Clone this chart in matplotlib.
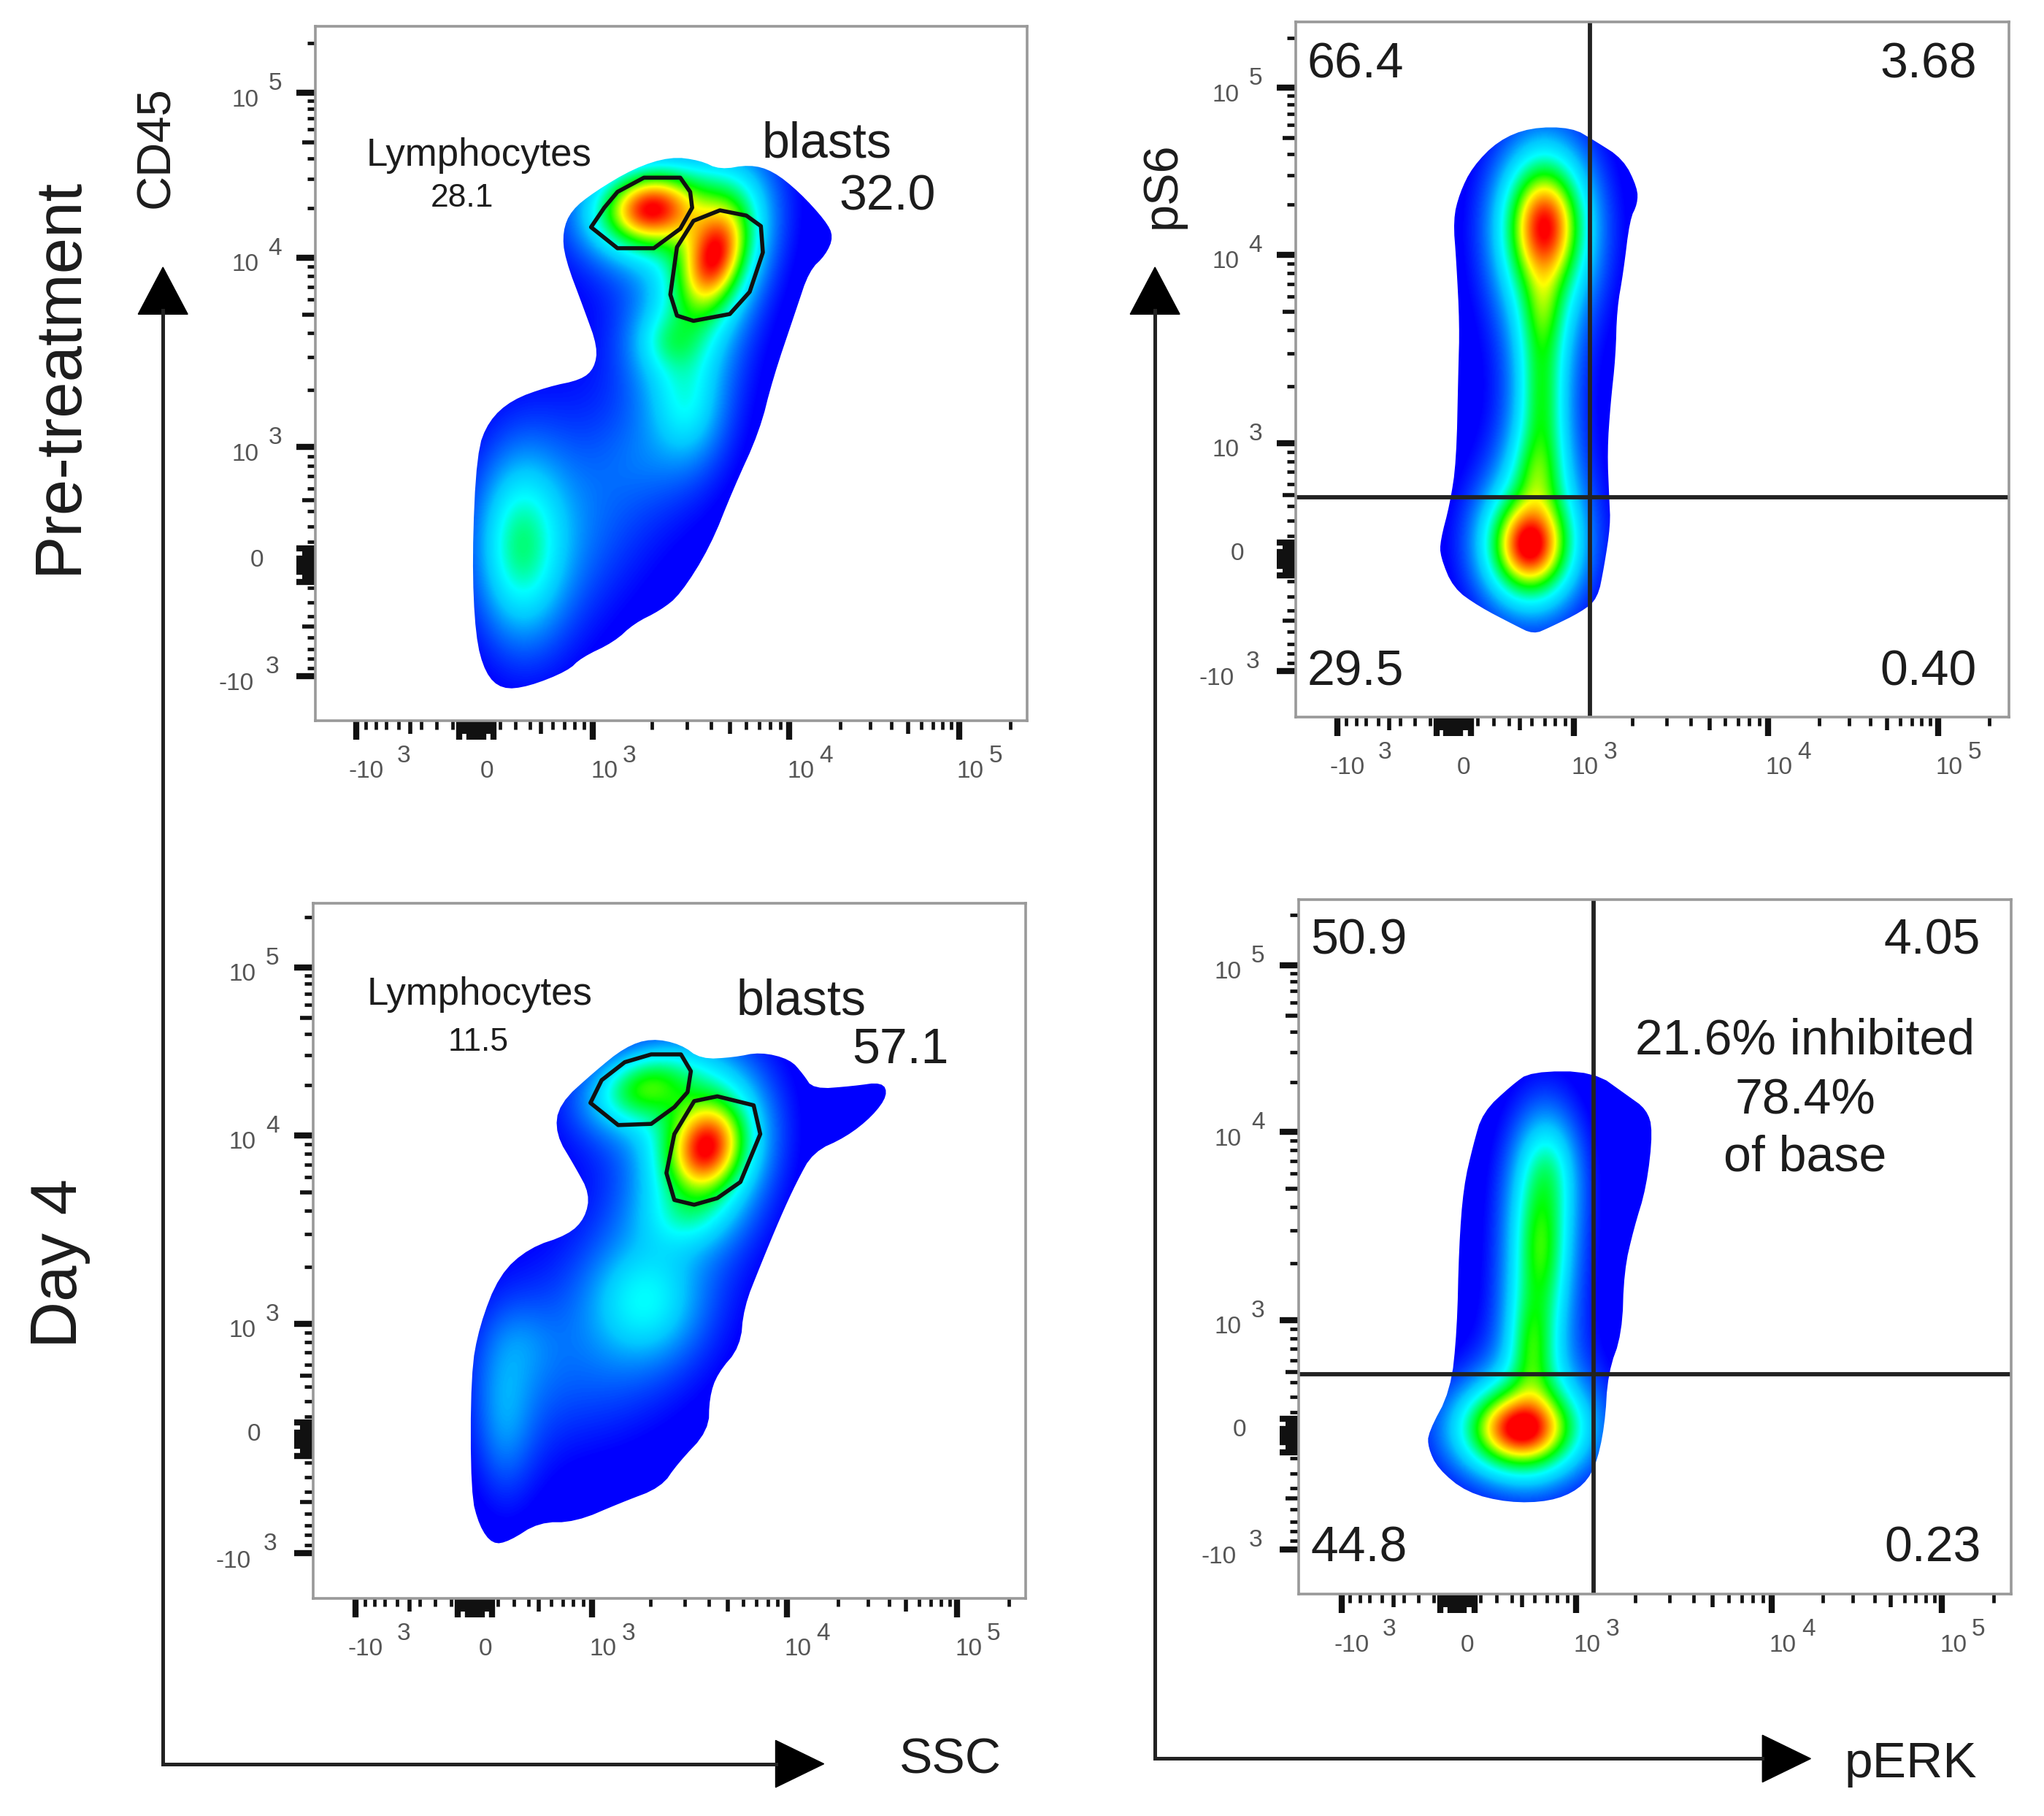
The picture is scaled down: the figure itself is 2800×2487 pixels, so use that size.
import matplotlib
matplotlib.use("Agg")
import matplotlib.pyplot as plt
import matplotlib.patches as mpatches
from matplotlib.collections import LineCollection
from matplotlib.colors import LinearSegmentedColormap
import numpy as np

plt.rcParams["font.family"] = ["Liberation Sans", "DejaVu Sans"]

A_FRAME = [242, 788, 20, 553]
A_XLIM = [478, 1555]
A_YLIM = [1370, 50]
A_XTICKS = [540, 722, 898, 1195, 1452]
A_YTICKS = [1285, 1075, 850, 490, 177]
A_OUTLINE = [(1015, 298), (1060, 305), (1090, 323), (1135, 313), (1170, 325), (1210, 365), (1250, 420),
             (1262, 450), (1250, 485), (1225, 515), (1205, 590), (1170, 720), (1150, 820), (1110, 930),
             (1075, 1040), (1030, 1130), (1000, 1160), (960, 1185), (930, 1220), (880, 1250), (860, 1275),
             (800, 1305), (760, 1310), (735, 1280), (720, 1210), (715, 1060), (722, 860), (740, 800),
             (775, 760), (830, 735), (880, 722), (900, 700), (905, 660), (885, 590), (855, 490),
             (852, 440), (865, 400), (900, 365), (960, 320)]
# x, y, sigma x, sigma y, angle, height
A_PEAKS = [(985, 398, 50, 46, -25, 0.95), (1082, 490, 33, 75, 12, 0.9), (1015, 650, 38, 44, 0, 0.18),
           (1040, 770, 42, 85, 0, 0.24), (790, 1040, 46, 115, 0, 0.38), (900, 1000, 85, 140, 0, 0.08),
           (960, 880, 55, 75, 0, 0.05)]
A_GATES = [[(895, 432), (915, 395), (935, 365), (975, 338), (1030, 338), (1045, 365), (1048, 395),
            (1030, 435), (990, 472), (935, 472)],
           [(1015, 560), (1025, 470), (1050, 420), (1090, 400), (1130, 410), (1152, 430), (1155, 480),
            (1135, 555), (1105, 597), (1050, 610), (1025, 600)]]

B_FRAME = [994, 1541, 17, 550]
B_XLIM = [405, 1515]
B_YLIM = [1365, 45]
B_XTICKS = [470, 650, 838, 1140, 1405]
B_YTICKS = [1278, 1065, 845, 487, 170]
B_OUTLINE = [(770, 245), (835, 245), (870, 270), (915, 305), (937, 360), (937, 390), (925, 420), (915, 520),
             (905, 590), (903, 680), (895, 770), (890, 860), (893, 950), (895, 1000), (885, 1080),
             (875, 1140), (850, 1165), (800, 1195), (775, 1208), (745, 1190), (690, 1155), (650, 1120),
             (630, 1060), (630, 1030), (645, 960), (655, 880), (658, 710), (660, 620), (655, 500),
             (650, 420), (660, 370), (680, 320), (720, 270)]
B_PEAKS = [(792, 430, 38, 78, 0, 0.92), (790, 590, 24, 70, 0, 0.22), (788, 760, 26, 125, 0, 0.38),
           (780, 900, 28, 60, 0, 0.22), (768, 1040, 38, 58, 0, 0.98)]
B_QUAD = [863, 948]

C_FRAME = [240, 787, 693, 1226]
C_XLIM = [473, 1552]
C_YLIM = [1205, 45]
C_XTICKS = [538, 718, 895, 1190, 1448]
C_YTICKS = [1130, 940, 747, 432, 152]
C_OUTLINE = [(985, 270), (1030, 280), (1060, 305), (1110, 302), (1150, 293), (1195, 305), (1215, 330),
             (1230, 355), (1290, 350), (1335, 343), (1343, 365), (1320, 400), (1280, 435), (1230, 460),
             (1205, 510), (1180, 570), (1150, 650), (1125, 720), (1120, 785), (1085, 830), (1073, 870),
             (1072, 925), (1025, 980), (1000, 1020), (940, 1045), (870, 1078), (815, 1078), (770, 1110),
             (745, 1115), (725, 1085), (712, 1030), (712, 830), (725, 750), (755, 665), (800, 620),
             (860, 598), (885, 570), (892, 530), (870, 485), (840, 430), (845, 380), (900, 325), (945, 285)]
C_PEAKS = [(975, 352, 56, 40, -20, 0.46), (1068, 452, 40, 56, 12, 0.97), (975, 710, 62, 72, 0, 0.27),
           (1035, 570, 48, 40, 0, 0.13), (762, 900, 36, 105, 0, 0.15), (880, 850, 105, 110, 0, 0.08),
           (790, 780, 45, 55, 0, 0.06)]
C_GATES = [[(893, 378), (910, 340), (945, 310), (985, 297), (1030, 297), (1045, 325), (1040, 360),
            (1020, 385), (985, 413), (935, 415)],
           [(1008, 495), (1020, 430), (1050, 375), (1085, 367), (1140, 382), (1150, 430), (1120, 510),
            (1085, 537), (1050, 548), (1020, 540)]]

D_FRAME = [996, 1543, 690, 1223]
D_XLIM = [408, 1518]
D_YLIM = [1200, 40]
D_XTICKS = [475, 655, 840, 1145, 1410]
D_YTICKS = [1125, 935, 742, 428, 150]
D_OUTLINE = [(770, 327), (868, 327), (920, 367), (950, 390), (960, 425), (950, 520), (930, 590), (915, 660),
             (912, 765), (890, 830), (885, 920), (870, 990), (845, 1025), (800, 1045), (735, 1047),
             (670, 1030), (625, 990), (610, 955), (610, 930), (645, 860), (655, 760), (658, 620),
             (665, 520), (680, 450), (695, 395), (740, 350)]
D_PEAKS = [(752, 925, 52, 42, 0, 0.98), (785, 620, 30, 90, 0, 0.42), (772, 790, 26, 75, 0, 0.36),
           (795, 490, 34, 70, 0, 0.24)]
D_QUAD = [868, 832]

TICK_VALUES = [-1000, 0, 1000, 10000, 100000]
TICK_EXPONENTS = ["3", None, "3", "4", "5"]
SMALL_TICKS = [10, 20, 30, 40, 50, 60, 70, 80, 90, 100]
LINEAR_TICKS = [200, 300, 400, 500, 600, 700, 800, 900]
LOG_FACTORS = [2, 3, 4, 5, 6, 7, 8, 9]
# where the linear part of the axis sits between 0 and 1000
LINEAR_VALUES = [0, 100, 200, 300, 400, 500, 600, 700, 800, 900, 1000]
LINEAR_SPOTS = [0, 0.145, 0.2, 0.333, 0.46, 0.55, 0.65, 0.755, 0.84, 0.925, 1]

density = LinearSegmentedColormap.from_list("flow", [
    (0.0, "#0000ff"), (0.07, "#0000ff"), (0.15, "#0060ff"), (0.24, "#00c8ff"), (0.33, "#00ffff"),
    (0.42, "#00ff80"), (0.52, "#00ff00"), (0.7, "#ffff00"), (0.85, "#ff8000"), (1.0, "#ff0000")])

fig = plt.figure(figsize=(28, 24.87), dpi=100)
PT = 2800 / 1568 * 0.72  # points per preview pixel


def _smooth(points, rounds=2):
    pts = np.array(points, dtype=float)
    for _ in range(rounds):
        nxt = np.roll(pts, -1, axis=0)
        pts = np.column_stack([0.75 * pts + 0.25 * nxt, 0.25 * pts + 0.75 * nxt]).reshape(-1, 2)
    return pts


def _to_channel(values, knots):
    # biexponential style axis: about linear up to 1000, log above
    v = np.array(values, dtype=float)
    a = np.abs(v)
    low = np.sign(v) * np.interp(a, LINEAR_VALUES, LINEAR_SPOTS)
    u = np.where(a <= 1000, low, np.sign(v) * (1 + np.log10(np.maximum(a, 1) / 1000)))
    return np.interp(u, [-1, 0, 1, 2, 3, 4], list(knots) + [knots[-1] + knots[-1] - knots[-2]])


def _ticks(ax, knots, horizontal):
    decades = [1000, 10000, 100000]
    short = [s * v for v in LINEAR_TICKS for s in (-1, 1) if v != 500]
    for d in decades:
        short += [f * d for f in LOG_FACTORS if f != 5 and f * d <= 200000]
    medium = [-500, 500, 5000, 50000] + [s * v for v in SMALL_TICKS[4:] for s in (-1, 1)]
    long_ = TICK_VALUES + [s * v for v in SMALL_TICKS[:4] for s in (-1, 1)] + [-100, 100]
    for values, length, width in [(short, 6.5, 3.4), (medium, 10, 4.0), (long_, 14.5, 6.0)]:
        pos = _to_channel(values, knots)
        if horizontal:
            segs = [[(p, 0), (p, -length / 533)] for p in pos]
            tr = ax.get_xaxis_transform()
        else:
            segs = [[(0, p), (-length / 546, p)] for p in pos]
            tr = ax.get_yaxis_transform()
        ax.add_collection(LineCollection(segs, colors="#111111", linewidths=width, transform=tr,
                                         clip_on=False, capstyle="butt"))


def _tick_labels(ax, knots, horizontal):
    style = dict(fontsize=24, color="#555555", ha="center", va="center", annotation_clip=False,
                 textcoords="offset points")
    for p, v, e in zip(knots, TICK_VALUES, TICK_EXPONENTS):
        base = "0" if e is None else ("-10" if v < 0 else "10")
        if horizontal:
            xy, tr = (p, 0), ax.get_xaxis_transform()
            off = (8, -39) if e is None else ((7.6, -39) if v < 0 else (8.6, -39))
            exp_off = (36.5, -27) if v < 0 else (28, -27)
        else:
            xy, tr = (0, p), ax.get_yaxis_transform()
            off = (-45, 4) if e is None else ((-61, -6) if v < 0 else (-54, -5.5))
            exp_off = (-33, 7) if v < 0 else (-31, 7)
        ax.annotate(base, xy, xycoords=tr, xytext=(off[0] * PT, off[1] * PT), **style)
        if e is not None:
            ax.annotate(e, xy, xycoords=tr, xytext=(exp_off[0] * PT, exp_off[1] * PT), **style)


def panel(frame, xlim, ylim, xticks, yticks, outline, peaks):
    left, right, top, bottom = frame
    ax = fig.add_axes([left / 1568, 1 - bottom / 1393, (right - left) / 1568, (bottom - top) / 1393])
    # density surface from the peaks, clipped to the population outline
    gx, gy = np.meshgrid(np.linspace(xlim[0], xlim[1], 900), np.linspace(ylim[1], ylim[0], 900))
    field = np.zeros_like(gx)
    for cx, cy, sx, sy, ang, h in peaks:
        t = np.radians(ang)
        dx, dy = gx - cx, gy - cy
        u = dx * np.cos(t) + dy * np.sin(t)
        w = -dx * np.sin(t) + dy * np.cos(t)
        # heavy tails, the blue skirt of the picture is wide
        field += h * (1 + 0.25 * ((u / sx) ** 2 + (w / sy) ** 2)) ** -2
    im = ax.imshow(np.clip(field, 0, 1), extent=[xlim[0], xlim[1], ylim[0], ylim[1]], origin="upper",
                   cmap=density, vmin=0, vmax=1, aspect="auto", interpolation="bilinear")
    clip = mpatches.Polygon(_smooth(outline), closed=True, facecolor="none", edgecolor="none",
                            transform=ax.transData)
    ax.add_patch(clip)
    im.set_clip_path(clip)
    ax.set_xlim(xlim)
    ax.set_ylim(ylim)
    ax.set_xticks([])
    ax.set_yticks([])
    for spine in ax.spines.values():
        spine.set_edgecolor("#999999")
        spine.set_linewidth(2.6)
    _ticks(ax, xticks, True)
    _ticks(ax, yticks, False)
    _tick_labels(ax, xticks, True)
    _tick_labels(ax, yticks, False)
    return ax


def label(ax, x, y, text, size=49):
    ax.annotate(text, (x, y), xytext=(0, -0.075 * size), textcoords="offset points",
                fontsize=size, color="#1c1c1c", ha="center", va="center")


def gates(ax, polys):
    for poly in polys:
        ax.add_patch(mpatches.Polygon(poly, closed=True, fill=False, edgecolor="#111111", linewidth=4,
                                      joinstyle="round"))


def quadrant(ax, quad):
    ax.axvline(quad[0], color="#222222", lw=4.2)
    ax.axhline(quad[1], color="#222222", lw=4.2)


ax_a = panel(A_FRAME, A_XLIM, A_YLIM, A_XTICKS, A_YTICKS, A_OUTLINE, A_PEAKS)
gates(ax_a, A_GATES)
label(ax_a, 725, 290, "Lymphocytes", 38)
label(ax_a, 700, 372, "28.1", 32)
label(ax_a, 1252, 267, "blasts", 49)
label(ax_a, 1343, 367, "32.0", 49)

ax_b = panel(B_FRAME, B_XLIM, B_YLIM, B_XTICKS, B_YTICKS, B_OUTLINE, B_PEAKS)
quadrant(ax_b, B_QUAD)
label(ax_b, 498, 118, "66.4")
label(ax_b, 1390, 118, "3.68")
label(ax_b, 498, 1272, "29.5")
label(ax_b, 1390, 1272, "0.40")

ax_c = panel(C_FRAME, C_XLIM, C_YLIM, C_XTICKS, C_YTICKS, C_OUTLINE, C_PEAKS)
gates(ax_c, C_GATES)
label(ax_c, 725, 192, "Lymphocytes", 38)
label(ax_c, 723, 273, "11.5", 32)
label(ax_c, 1212, 203, "blasts", 49)
label(ax_c, 1362, 283, "57.1", 49)

ax_d = panel(D_FRAME, D_XLIM, D_YLIM, D_XTICKS, D_YTICKS, D_OUTLINE, D_PEAKS)
quadrant(ax_d, D_QUAD)
label(ax_d, 502, 103, "50.9")
label(ax_d, 1395, 103, "4.05")
label(ax_d, 502, 1117, "44.8")
label(ax_d, 1395, 1117, "0.23")
label(ax_d, 1197, 270, "21.6% inhibited")
label(ax_d, 1197, 370, "78.4%")
label(ax_d, 1197, 465, "of base")

# Overlay in preview pixels for the side labels and the long arrows
over = fig.add_axes([0, 0, 1, 1])
over.set_xlim(0, 1568)
over.set_ylim(1393, 0)
over.axis("off")
over.patch.set_alpha(0)

over.text(46, 288, "Pre-treatment", rotation=90, fontsize=64, color="#1c1c1c", ha="center", va="center")
over.text(46, 969, "Day 4", rotation=90, fontsize=64, color="#1c1c1c", ha="center", va="center")
over.text(120, 113, "CD45", rotation=90, fontsize=47, color="#1c1c1c", ha="center", va="center")
over.text(892, 142, "pS6", rotation=90, fontsize=48, color="#1c1c1c", ha="center", va="center")
over.text(729, 1350, "SSC", fontsize=49, color="#1c1c1c", ha="center", va="center")
over.text(1466, 1353, "pERK", fontsize=50, color="#1c1c1c", ha="center", va="center")

for x0, y0, x1 in [(125, 1353, 595), (886, 1349, 1352)]:
    over.plot([x0, x0, x1], [238, y0, y0], color="#222222", lw=3.6, solid_joinstyle="miter")
    over.add_patch(mpatches.Polygon([(x0 - 19, 241), (x0 + 19, 241), (x0, 205)], color="black"))
    over.add_patch(mpatches.Polygon([(x1, y0 - 18), (x1, y0 + 18), (x1 + 37, y0)], color="black"))

fig.savefig("out.png", dpi=100)
